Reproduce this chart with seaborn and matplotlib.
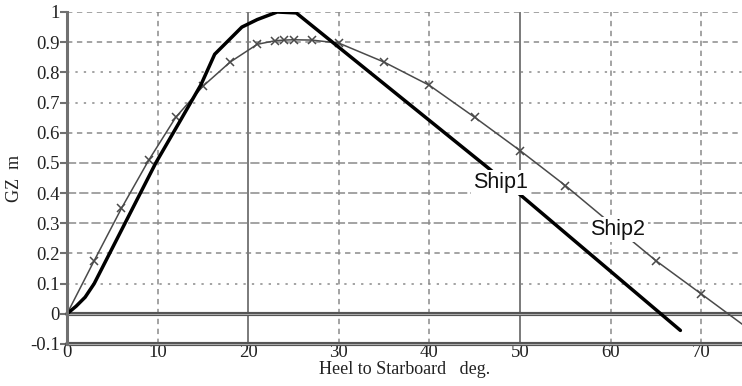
import matplotlib
matplotlib.use("Agg")
import matplotlib.pyplot as plt
import seaborn as sns
import numpy as np
import pandas as pd

# ---- data ----
ship1_heel = [0, 1, 2, 3, 6.4, 9.8, 12.6, 14.8, 16.3, 19.3, 21, 23.2, 25.3, 46.5, 50, 67.7]
ship1_gz = [0, 0.025, 0.055, 0.1, 0.3, 0.5, 0.645, 0.76, 0.86, 0.95, 0.975, 1.0, 0.997, 0.483, 0.395, -0.055]

ship2_heel = [0, 3, 6, 9, 12, 15, 18, 21, 23, 24, 25, 27, 30, 35, 40, 45, 50, 55, 60, 65, 70, 75]
ship2_gz = [0, 0.176, 0.349, 0.508, 0.651, 0.754, 0.834, 0.893, 0.905, 0.907, 0.908, 0.907, 0.897,
            0.834, 0.757, 0.651, 0.541, 0.425, 0.30, 0.176, 0.066, -0.045]

x_ticks = [0, 10, 20, 30, 40, 50, 60, 70]
y_ticks = [-0.1, 0, 0.1, 0.2, 0.3, 0.4, 0.5, 0.6, 0.7, 0.8, 0.9, 1.0]
y_tick_labels = ["-0.1", "0", "0.1", "0.2", "0.3", "0.4", "0.5", "0.6", "0.7", "0.8", "0.9", "1"]

labels = ["Ship1", "Ship2"]
label_pos = [(47.9, 0.435), (60.8, 0.28)]

df1 = pd.DataFrame({"heel": ship1_heel, "gz": ship1_gz})
df2 = pd.DataFrame({"heel": ship2_heel, "gz": ship2_gz})

sns.set_style("white")
serif = ["Liberation Serif", "DejaVu Serif"]
sans = ["Liberation Sans", "DejaVu Sans"]

fig = plt.figure(figsize=(7.42, 3.86), dpi=100)
ax = fig.add_axes([67 / 742, 1 - 344 / 386, (742 - 67) / 742, (344 - 12) / 386])

ax.set_xlim(0, 74.5)
ax.set_ylim(-0.1, 1.0)

# grid lines with mixed styles
grid_col = "#8a8a8a"
for yv in [0.1, 0.2, 0.3, 0.4, 0.5, 0.6, 0.7, 0.8, 0.9, 1.0]:
    if yv in (0.3, 0.4, 0.5):
        ls = (0, (6, 2))
    elif yv in (0.1, 0.7, 0.8):
        ls = (0, (1.5, 4))
    else:
        ls = (0, (3.5, 3))
    ax.axhline(yv, color=grid_col, lw=1.1, ls=ls, zorder=1)
for xv in [10, 30, 40, 60, 70]:
    ax.axvline(xv, color=grid_col, lw=1.1, ls=(0, (3.5, 3)), zorder=1)
for xv in [20, 50]:
    ax.axvline(xv, color="#7a7a7a", lw=1.4, zorder=1)

# zero line and bottom (double dark line look)
for yv in [0.0, -0.1]:
    ax.axhline(yv, color="#555555", lw=3.0, zorder=1.5, clip_on=False)
    ax.axhline(yv, color="#bdbdbd", lw=0.6, zorder=1.6, clip_on=False)

sns.lineplot(data=df1, x="heel", y="gz", ax=ax, color="black", linewidth=2.5,
             sort=False, zorder=2.5)
sns.lineplot(data=df2, x="heel", y="gz", ax=ax, color="#4a4a4a", linewidth=1.1,
             marker="x", markersize=6, markeredgewidth=1.1, markeredgecolor="#4a4a4a",
             markevery=list(range(1, len(ship2_heel))),
             sort=False, zorder=2.4)

for lab, (lx, ly) in zip(labels, label_pos):
    ax.text(lx, ly, lab, ha="center", va="center", fontsize=15.5, family=sans,
            color="#111111", zorder=4,
            bbox=dict(facecolor="white", edgecolor="none", pad=1.5))

for s in ["top", "right", "bottom"]:
    ax.spines[s].set_visible(False)
ax.spines["left"].set_color("#707070")
ax.spines["left"].set_linewidth(2.2)

ax.set_xticks(x_ticks)
ax.set_xticklabels([str(v) for v in x_ticks], family=serif, fontsize=13.5)
ax.set_yticks(y_ticks)
ax.set_yticklabels(y_tick_labels, family=serif, fontsize=13.5)
ax.tick_params(axis="x", length=0, pad=0, colors="#222222")
ax.tick_params(axis="y", length=5, width=1.5, pad=0, color="#707070", labelcolor="#222222", left=True)

ax.set_xlabel("Heel to Starboard   deg.", family=serif, fontsize=13, labelpad=0, color="#222222")
ax.set_ylabel("GZ  m", family=serif, fontsize=13, labelpad=5, color="#222222")

fig.savefig("out.png", dpi=100)
